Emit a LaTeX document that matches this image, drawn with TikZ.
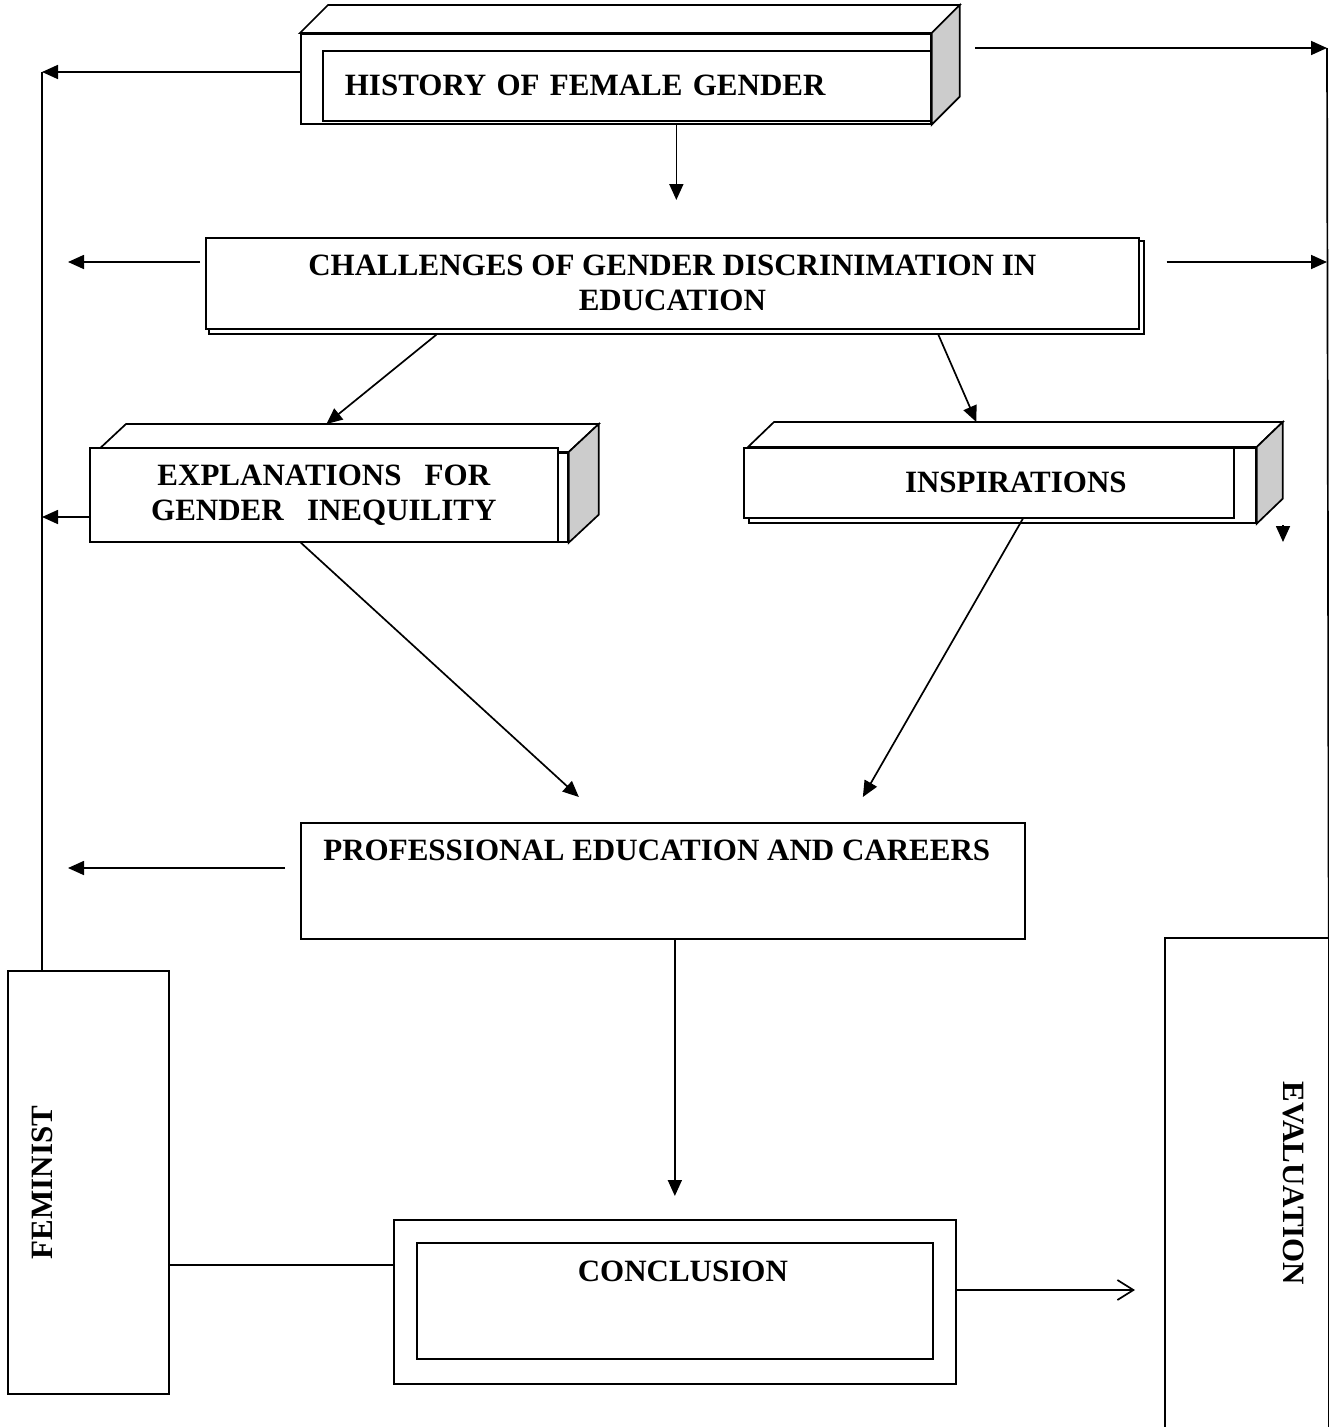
\documentclass[tikz,border=0pt]{standalone}
\usepackage{fontspec}
\setmainfont{Liberation Serif}
\usetikzlibrary{arrows.meta,positioning}

\tikzset{
  box/.style={draw, fill=white, inner sep=0pt},
  lbl/.style={font=\fontsize{31}{35}\selectfont\bfseries},
  face/.style={draw, fill=white},
  side/.style={draw, fill=black!20},
  arr/.style={-{Triangle[length=16pt,width=14pt]}},
  oarr/.style={-{Straight Barb[length=16pt,width=20pt]}}
}
% top and side of a raised box: node, dx, dy
\newcommand{\drawslab}[3]{%
  \draw[face] (#1.north west) -- ++(#2,-#3) -- ([shift={(#2,-#3)}]#1.north east) -- (#1.north east) -- cycle;
  \draw[side] (#1.north east) -- ([shift={(#2,-#3)}]#1.north east) -- ([shift={(#2,-#3)}]#1.south east) -- (#1.south east) -- cycle;
}

\begin{document}
\begin{tikzpicture}[x=1pt, y=-1pt, line width=1.7pt]
\useasboundingbox (0,0) rectangle (1329,1427);

% bus lines and loose ends
\coordinate (lbus) at (42,72);
\coordinate (rbus) at (1327,48);
\coordinate (lc) at (68,262);
\coordinate (le) at (42,517);
\coordinate (lp) at (68,868);
\coordinate (rtop) at (975,48);
\coordinate (idown) at (1283,542);
\coordinate (cj) at (0,1265);
\coordinate (ce) at (0,1290);

% history
\node[box, anchor=north west, minimum width=630, minimum height=90] (histout) at (300,33) {};
\drawslab{histout}{28}{28}
\node[box, lbl, anchor=north west, minimum height=70, text width=564pt, inner xsep=22pt, align=left] (hist) at (322,50) {HISTORY OF FEMALE GENDER};

% challenges
\node[box, anchor=north west, minimum width=935, minimum height=93] (chalback) at (208,240) {};
\node[box, lbl, anchor=north west, minimum width=933, minimum height=91, align=center] (chal) at (205,237) {CHALLENGES OF GENDER DISCRINIMATION IN\\EDUCATION};

% explanations
\node[box, anchor=north west, minimum width=471, minimum height=89] (explout) at (96,452) {};
\drawslab{explout}{30}{28}
\node[box, lbl, anchor=north west, minimum width=468, minimum height=94, align=center] (expl) at (89,447) {EXPLANATIONS\ \ \ FOR\\GENDER\ \ \ INEQUILITY};

% inspirations
\node[box, anchor=north west, minimum width=507, minimum height=75] (inspout) at (748,447) {};
\drawslab{inspout}{26}{25}
\node[box, lbl, anchor=north west, minimum width=490, minimum height=70] (insp) at (743,447) {\hspace*{54pt}INSPIRATIONS};

% professional
\node[box, anchor=north west, minimum width=724, minimum height=116] (prof) at (300,822) {};
\node[lbl, below=14pt of prof.north, xshift=-6pt] (proftxt) {PROFESSIONAL EDUCATION AND CAREERS};

% conclusion
\node[box, anchor=north west, minimum width=562, minimum height=164] (concout) at (393,1219) {};
\node[box, anchor=north west, minimum width=516, minimum height=116] (conc) at (416,1242) {};
\node[lbl, below=15pt of conc.north, xshift=8pt] (conctxt) {CONCLUSION};

% side boxes
\node[box, anchor=north west, minimum width=161, minimum height=423] (fem) at (7,970) {};
\node[lbl, rotate=90] (femtxt) at (fem.center -| lbus) {FEMINIST};
\node[anchor=north west, minimum width=162, minimum height=489, inner sep=0pt] (eval) at (1165,938) {};
\draw (eval.south west) -- (eval.north west) -- (eval.north east) -- (eval.south east);
\node[lbl, rotate=-90] (evaltxt) at ([xshift=-35pt]eval.east) {EVALUATION};

% connectors
\draw (fem.north -| lbus) -- (lbus);
\draw (rbus) -- (eval.north east);
\draw[arr] (histout.west |- lbus) -- (lbus);
\draw[arr] (rtop) -- (rbus);
\draw[arr, shorten >=40pt] (histout.south -| chalback.north) -- (chalback.north);
\draw[arr, shorten <=5pt] (chal.west |- lc) -- (lc);
\draw[arr, shorten <=22pt] (chalback.east |- lc) -- (rbus |- lc);
\draw[arr] ([xshift=-240pt]chalback.south) -- ([xshift=-6pt,yshift=28pt]explout.north);
\draw[arr] ([xshift=262pt]chalback.south) -- ([xshift=-26pt,yshift=25pt]inspout.north);
\draw[arr] (expl.west |- le) -- (le);
\draw[arr] ([yshift=17pt]idown) -- (idown);
\draw[arr] ([xshift=-23pt]expl.south) -- ([xshift=-84pt,yshift=25pt]prof.north);
\draw[arr] ([xshift=34pt]insp.south) -- ([xshift=200pt,yshift=25pt]prof.north);
\draw[arr, shorten <=15pt] (prof.west |- lp) -- (lp);
\draw[arr, shorten >=23pt] (prof.south -| concout.north) -- (concout.north);
\draw (fem.east |- cj) -- (concout.west |- cj);
\draw[oarr, shorten >=30pt] (concout.east |- ce) -- (eval.west |- ce);
\end{tikzpicture}
\end{document}
